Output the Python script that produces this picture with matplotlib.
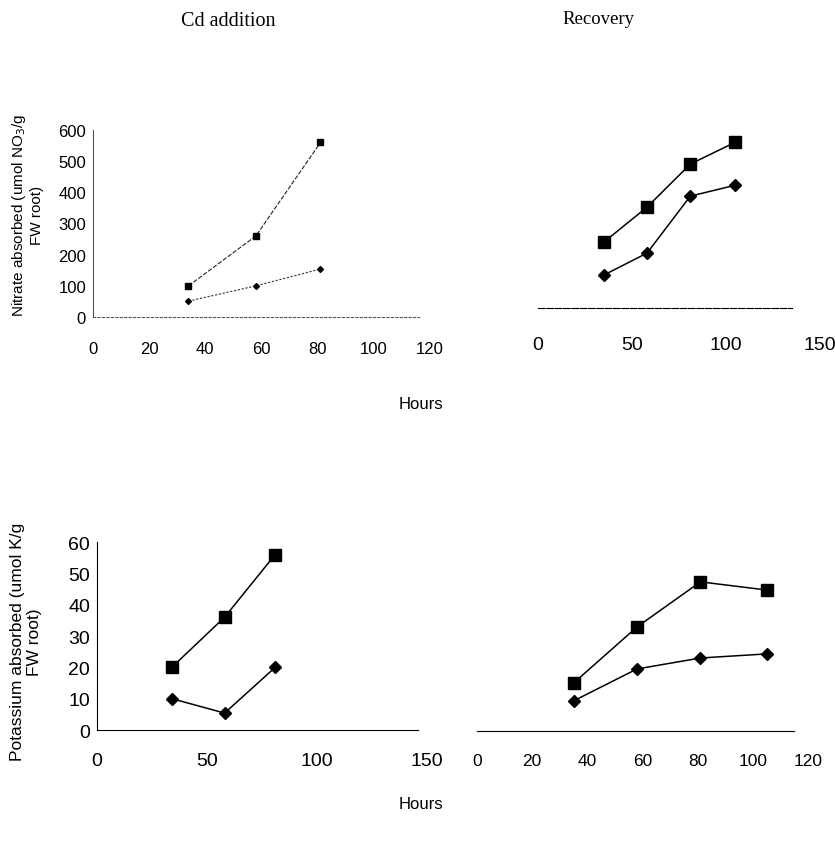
import matplotlib.pyplot as plt

# hours at which samples were taken
cd_hours = [34, 58, 81]
rec_hours = [35, 58, 81, 105]

# nitrate absorbed (umol NO3/g FW root)
no3_cd_sq = [100, 260, 560]
no3_cd_dm = [51, 100, 154]
no3_rec_sq = [222, 340, 485, 559]
no3_rec_dm = [111, 185, 377, 414]

# potassium absorbed (umol K/g FW root)
k_cd_sq = [20, 36, 56]
k_cd_dm = [10, 5.4, 20]
k_rec_sq = [15.3, 33.2, 47.6, 45]
k_rec_dm = [9.6, 19.8, 23.3, 24.6]

no3_yticks = [0, 100, 200, 300, 400, 500, 600]
k_yticks = [0, 10, 20, 30, 40, 50, 60]

W, H = 835, 845
fig = plt.figure(figsize=(W / 100, H / 100), dpi=100)
sans = 'Liberation Sans'
serif = 'Liberation Serif'


def box(x0, x1, y0, y1):
    # pixel box -> figure fraction rect
    return [x0 / W, 1 - y0 / H, (x1 - x0) / W, (y0 - y1) / H]


def style(ax, xlim, xticks, xend, ylim, fs, pad, show_y=False, yticks=None, yfs=10):
    ax.set_xlim(*xlim)
    ax.set_ylim(*ylim)
    for s in ['top', 'right']:
        ax.spines[s].set_visible(False)
    ax.spines['bottom'].set_bounds(0, xend)
    ax.spines['bottom'].set_linewidth(0.8)
    ax.set_xticks(xticks)
    ax.tick_params(axis='x', length=0, pad=pad, labelsize=fs)
    if show_y:
        ax.spines['left'].set_linewidth(0.8)
        ax.spines['left'].set_linestyle((0, (3, 1)))
        ax.set_yticks(yticks)
        ax.tick_params(axis='y', length=0, pad=5, labelsize=yfs)
    else:
        ax.spines['left'].set_visible(False)
        ax.set_yticks([])
    for lab in ax.get_xticklabels() + ax.get_yticklabels():
        lab.set_fontfamily(sans)


# top left: nitrate, Cd addition
ax1 = fig.add_axes(box(93, 430, 318, 131))
ax1.plot(cd_hours, no3_cd_sq, color='#222222', lw=0.8, ls=(0, (4, 1.5)),
         marker='s', ms=4.5, mfc='black', mec='black')
ax1.plot(cd_hours, no3_cd_dm, color='#333333', lw=0.8, ls=(0, (2, 1.5)),
         marker='D', ms=3, mfc='black', mec='black')
style(ax1, (0, 120), [0, 20, 40, 60, 80, 100, 120], 116, (0, 600), 12, 17,
      show_y=True, yticks=no3_yticks, yfs=12)
ax1.spines['bottom'].set_linestyle((0, (2, 2)))
ax1.spines['bottom'].set_color('#555555')
ax1.spines['left'].set_color('#555555')

# top right: nitrate, recovery
ax2 = fig.add_axes(box(538, 820, 309, 131))
ax2.plot(rec_hours, no3_rec_sq, color='black', lw=1.1,
         marker='s', ms=8, mfc='black', mec='black')
ax2.plot(rec_hours, no3_rec_dm, color='black', lw=1.1,
         marker='D', ms=6, mfc='black', mec='black')
style(ax2, (0, 150), [0, 50, 100, 150], 135, (0, 600), 14, 20)
ax2.spines['bottom'].set_linestyle((0, (6, 1.5)))

# bottom left: potassium, Cd addition
ax3 = fig.add_axes(box(97, 427, 731, 543))
ax3.plot(cd_hours, k_cd_sq, color='black', lw=1.1,
         marker='s', ms=8, mfc='black', mec='black')
ax3.plot(cd_hours, k_cd_dm, color='black', lw=1.1,
         marker='D', ms=6, mfc='black', mec='black')
style(ax3, (0, 150), [0, 50, 100, 150], 146, (0, 60), 14, 16,
      show_y=True, yticks=k_yticks, yfs=14)

# bottom right: potassium, recovery
ax4 = fig.add_axes(box(477, 808, 732, 544))
ax4.plot(rec_hours, k_rec_sq, color='black', lw=1.1,
         marker='s', ms=8, mfc='black', mec='black')
ax4.plot(rec_hours, k_rec_dm, color='black', lw=1.1,
         marker='D', ms=6, mfc='black', mec='black')
style(ax4, (0, 120), [0, 20, 40, 60, 80, 100, 120], 115, (0, 60), 12.5, 16)

# titles and axis labels
fig.text(228 / W, 1 - 22 / H, 'Cd addition', family=serif, fontsize=14.5,
         ha='center', va='center')
fig.text(598 / W, 1 - 20 / H, 'Recovery', family=serif, fontsize=13.5,
         ha='center', va='center')
fig.text(421 / W, 1 - 405 / H, 'Hours', family=sans, fontsize=12,
         ha='center', va='center')
fig.text(421 / W, 1 - 805 / H, 'Hours', family=sans, fontsize=12,
         ha='center', va='center')
fig.text(27 / W, 1 - 215 / H, 'Nitrate absorbed (umol NO$_3$/g\nFW root)',
         family=sans, fontsize=11, rotation=90, ha='center', va='center',
         multialignment='center', linespacing=1.1)
fig.text(26 / W, 1 - 642 / H, 'Potassium absorbed (umol K/g\nFW root)',
         family=sans, fontsize=12.5, rotation=90, ha='center', va='center',
         multialignment='center', linespacing=1.1)

fig.savefig('out.png', dpi=100, facecolor='white')
